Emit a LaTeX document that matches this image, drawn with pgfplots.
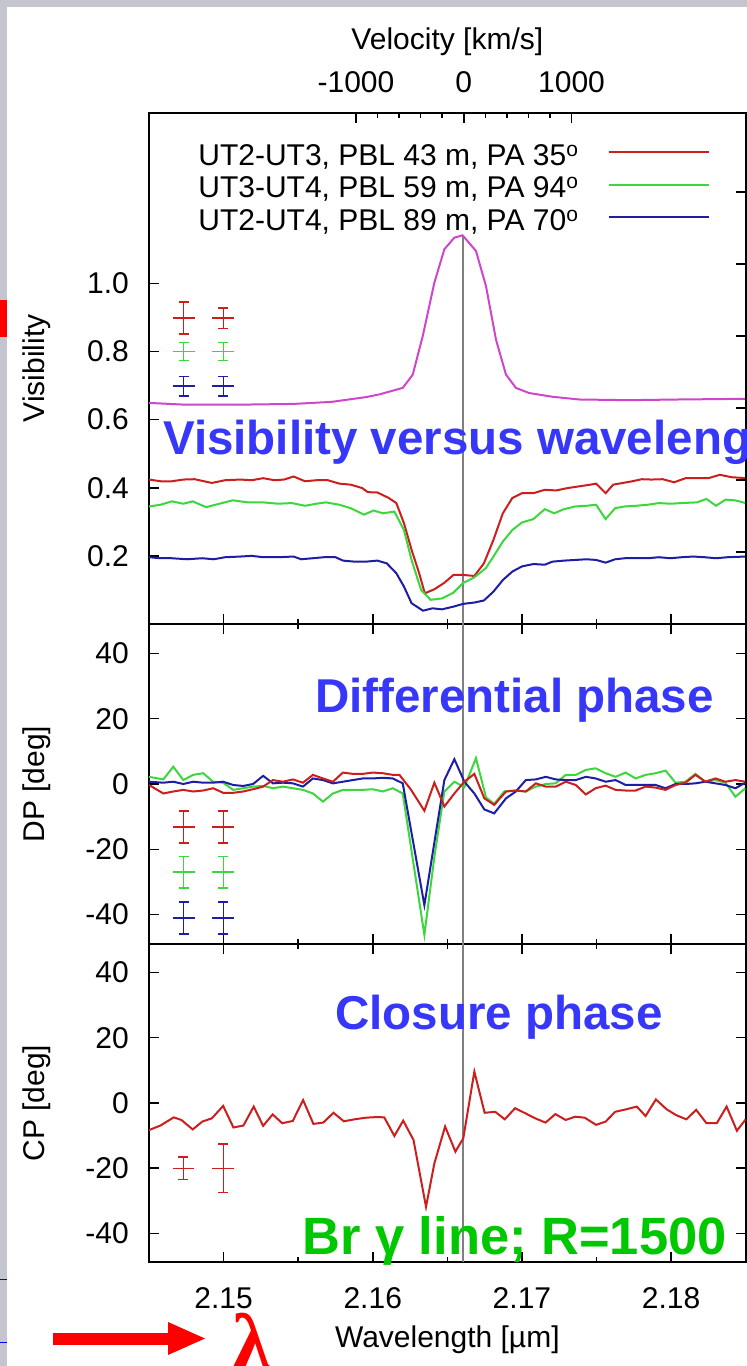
\documentclass[border=0pt]{standalone}
\usepackage{fontspec}
\setmainfont{Liberation Sans}
\newfontfamily\lamfont{Liberation Serif}
\usepackage{pgfplots}
\usepackage{pgfplotstable}
\pgfplotsset{compat=1.18}

\definecolor{gpred}{RGB}{205,30,30}
\definecolor{gpgreen}{RGB}{60,215,60}
\definecolor{gpblue}{RGB}{30,30,165}
\definecolor{gpmag}{RGB}{205,70,205}
\definecolor{annblue}{RGB}{55,55,250}
\definecolor{anngreen}{RGB}{0,200,0}
\definecolor{bordergray}{RGB}{196,197,206}

% visibility
\pgfplotstableread{
x y
2.14500 0.649
2.14730 0.644
2.15138 0.644
2.15469 0.646
2.15724 0.652
2.15954 0.666
2.16045 0.674
2.16201 0.693
2.16268 0.732
2.16335 0.845
2.16413 1.002
2.16480 1.100
2.16547 1.134
2.16602 1.141
2.16692 1.095
2.16759 0.992
2.16826 0.835
2.16893 0.732
2.16960 0.693
2.17048 0.678
2.17204 0.667
2.17383 0.659
2.17717 0.657
2.18052 0.659
2.18500 0.661
}\spec
\pgfplotstableread{
x y
2.14500 0.424
2.14577 0.419
2.14653 0.419
2.14730 0.424
2.14806 0.425
2.14921 0.414
2.15010 0.422
2.15112 0.424
2.15189 0.422
2.15265 0.428
2.15342 0.422
2.15406 0.424
2.15469 0.433
2.15546 0.419
2.15622 0.422
2.15699 0.422
2.15776 0.412
2.15852 0.409
2.15929 0.399
2.15967 0.387
2.16031 0.386
2.16107 0.370
2.16158 0.355
2.16209 0.296
2.16260 0.218
2.16311 0.149
2.16349 0.090
2.16413 0.102
2.16477 0.120
2.16541 0.144
2.16605 0.144
2.16681 0.141
2.16745 0.178
2.16809 0.247
2.16872 0.325
2.16936 0.370
2.17000 0.384
2.17077 0.384
2.17153 0.394
2.17230 0.392
2.17306 0.399
2.17383 0.404
2.17459 0.409
2.17497 0.412
2.17561 0.384
2.17612 0.409
2.17676 0.414
2.17740 0.419
2.17804 0.425
2.17867 0.424
2.17944 0.425
2.18020 0.416
2.18097 0.428
2.18173 0.428
2.18250 0.428
2.18327 0.438
2.18403 0.431
2.18500 0.428
}\visred
\pgfplotstableread{
x y
2.14500 0.345
2.14577 0.350
2.14653 0.360
2.14730 0.353
2.14793 0.360
2.14883 0.343
2.14972 0.353
2.15061 0.363
2.15163 0.357
2.15265 0.357
2.15367 0.353
2.15457 0.355
2.15546 0.347
2.15622 0.353
2.15686 0.357
2.15776 0.350
2.15852 0.340
2.15941 0.321
2.16005 0.333
2.16069 0.325
2.16145 0.330
2.16209 0.276
2.16260 0.188
2.16324 0.100
2.16388 0.071
2.16464 0.075
2.16541 0.092
2.16605 0.120
2.16681 0.137
2.16758 0.164
2.16809 0.198
2.16872 0.242
2.16936 0.276
2.17000 0.298
2.17077 0.308
2.17153 0.337
2.17217 0.325
2.17281 0.337
2.17357 0.345
2.17434 0.347
2.17497 0.350
2.17561 0.308
2.17625 0.340
2.17689 0.345
2.17765 0.347
2.17842 0.350
2.17918 0.355
2.17995 0.353
2.18071 0.355
2.18173 0.357
2.18237 0.367
2.18301 0.347
2.18365 0.365
2.18429 0.363
2.18500 0.355
}\visgreen
\pgfplotstableread{
x y
2.14500 0.196
2.14577 0.193
2.14653 0.193
2.14755 0.190
2.14857 0.193
2.14934 0.190
2.15010 0.196
2.15112 0.198
2.15189 0.200
2.15265 0.196
2.15367 0.196
2.15469 0.198
2.15520 0.190
2.15597 0.193
2.15673 0.196
2.15750 0.196
2.15801 0.186
2.15878 0.183
2.15954 0.183
2.16031 0.186
2.16094 0.178
2.16158 0.149
2.16209 0.110
2.16260 0.061
2.16337 0.039
2.16400 0.046
2.16464 0.043
2.16541 0.051
2.16605 0.059
2.16681 0.063
2.16745 0.069
2.16809 0.095
2.16872 0.129
2.16936 0.154
2.17000 0.169
2.17077 0.176
2.17153 0.174
2.17204 0.183
2.17281 0.186
2.17357 0.188
2.17434 0.190
2.17497 0.188
2.17561 0.180
2.17625 0.190
2.17689 0.193
2.17765 0.193
2.17842 0.193
2.17918 0.196
2.17995 0.193
2.18071 0.196
2.18148 0.198
2.18224 0.196
2.18301 0.193
2.18378 0.196
2.18500 0.198
}\visblue

% differential phase
\pgfplotstableread{
x y
2.14500 -0.3
2.14596 -2.9
2.14663 -2.3
2.14730 -1.8
2.14796 -2.3
2.14863 -2.0
2.14930 -1.3
2.14997 -2.7
2.15064 -2.7
2.15131 -2.3
2.15198 -1.6
2.15265 -0.8
2.15331 1.2
2.15398 0.7
2.15465 1.4
2.15532 0.4
2.15599 2.8
2.15666 1.7
2.15733 0.7
2.15800 3.5
2.15866 3.1
2.15933 3.1
2.16000 3.5
2.16067 3.3
2.16134 2.8
2.16179 2.8
2.16257 -1.8
2.16346 -8.2
2.16413 0.4
2.16480 -6.9
2.16547 -2.9
2.16614 0.7
2.16681 3.1
2.16748 -4.4
2.16814 -6.4
2.16893 -2.3
2.16959 -2.0
2.17026 -2.3
2.17093 0.2
2.17160 -0.8
2.17227 -0.8
2.17294 0.7
2.17361 -0.3
2.17428 -3.2
2.17494 -1.3
2.17561 -0.5
2.17628 -1.8
2.17695 -2.0
2.17762 -2.0
2.17829 -0.8
2.17896 -1.1
2.17963 -1.8
2.18030 -0.3
2.18096 0.4
2.18163 2.8
2.18230 0.7
2.18297 1.7
2.18364 0.7
2.18431 1.2
2.18498 0.7
}\dpred
\pgfplotstableread{
x y
2.14500 2.2
2.14596 1.4
2.14663 5.3
2.14730 1.2
2.14796 2.8
2.14863 3.3
2.14930 0.7
2.14997 0.4
2.15064 -1.8
2.15131 -1.3
2.15198 -0.8
2.15265 -0.6
2.15331 -1.3
2.15398 -0.8
2.15465 -1.3
2.15532 -1.8
2.15599 -2.9
2.15666 -5.4
2.15733 -2.9
2.15800 -1.8
2.15866 -1.8
2.15933 -1.8
2.16000 -1.6
2.16067 -2.3
2.16134 -1.3
2.16201 -2.9
2.16346 -46.2
2.16413 -22.3
2.16480 -2.3
2.16547 0.7
2.16614 -1.0
2.16692 7.9
2.16759 -4.1
2.16814 -6.1
2.16881 -2.3
2.16959 -2.0
2.17026 -2.3
2.17093 -0.8
2.17160 0.0
2.17227 0.2
2.17294 2.8
2.17361 2.8
2.17428 4.3
2.17494 4.8
2.17561 3.3
2.17628 2.2
2.17695 3.5
2.17762 1.7
2.17829 2.8
2.17896 3.3
2.17963 4.1
2.18030 0.4
2.18096 0.7
2.18163 3.1
2.18230 0.7
2.18297 1.2
2.18364 0.4
2.18431 -3.9
2.18498 -1.3
}\dpgreen
\pgfplotstableread{
x y
2.14500 0.7
2.14596 0.4
2.14663 0.7
2.14730 0.0
2.14796 0.7
2.14863 0.4
2.14930 0.4
2.14997 0.7
2.15064 -0.3
2.15131 -0.6
2.15198 0.0
2.15265 2.5
2.15331 0.2
2.15398 0.4
2.15465 0.2
2.15532 -0.8
2.15599 1.7
2.15666 1.2
2.15733 0.2
2.15800 0.7
2.15866 1.2
2.15933 1.7
2.16000 1.7
2.16067 1.9
2.16134 1.7
2.16201 0.2
2.16346 -37.1
2.16413 -17.9
2.16480 1.2
2.16547 7.6
2.16614 0.7
2.16681 -2.9
2.16748 -7.8
2.16814 -9.0
2.16893 -4.4
2.16959 -2.3
2.17026 1.2
2.17093 1.4
2.17160 2.2
2.17227 1.4
2.17294 1.2
2.17361 1.2
2.17428 2.2
2.17494 1.7
2.17561 0.7
2.17628 1.2
2.17695 -0.3
2.17762 -0.3
2.17829 -0.3
2.17896 -0.3
2.17963 -1.3
2.18030 0.0
2.18096 0.0
2.18163 0.2
2.18230 0.7
2.18297 0.2
2.18364 -0.3
2.18431 -1.3
2.18498 0.4
}\dpblue

% closure phase
\pgfplotstableread{
x y
2.14500 -8.3
2.14577 -6.9
2.14666 -4.4
2.14717 -5.2
2.14793 -8.1
2.14857 -5.7
2.14921 -4.7
2.14997 -0.9
2.15066 -7.5
2.15133 -6.9
2.15202 -1.1
2.15265 -7.0
2.15329 -3.5
2.15393 -6.2
2.15464 -5.5
2.15533 0.9
2.15602 -6.4
2.15668 -6.0
2.15737 -3.0
2.15806 -5.6
2.15878 -5.0
2.15954 -4.5
2.16031 -4.3
2.16077 -4.4
2.16145 -10.1
2.16204 -5.4
2.16273 -11.3
2.16357 -31.8
2.16413 -18.5
2.16485 -7.2
2.16554 -14.9
2.16607 -10.8
2.16681 9.6
2.16750 -3.0
2.16821 -2.7
2.16885 -5.0
2.16954 -1.6
2.17025 -3.2
2.17089 -4.7
2.17158 -6.0
2.17224 -3.4
2.17293 -5.2
2.17357 -4.2
2.17421 -4.5
2.17497 -6.7
2.17561 -5.7
2.17625 -2.7
2.17702 -1.9
2.17770 -1.1
2.17829 -4.0
2.17898 1.1
2.17969 -1.9
2.18033 -3.7
2.18102 -5.0
2.18168 -2.1
2.18237 -6.2
2.18306 -6.2
2.18372 -1.1
2.18441 -8.5
2.18500 -5.0
}\cpred

\pgfplotsset{
  panel/.style={
    scale only axis, width=596.7pt,
    xmin=2.145, xmax=2.185,
    axis line style={line width=1.6pt},
    tick style={black, line width=1.6pt},
    major tick length=10pt, minor tick length=5pt,
    tick align=inside,
    xtick={2.15,2.16,2.17,2.18},
    minor xtick={2.155,2.165,2.175},
    font=\fontsize{30}{36}\selectfont,
    yticklabel style={anchor=east, inner sep=0pt, xshift=-20pt},
    ylabel style={at={(axis description cs:-0.188,0.5)}, anchor=center},
  },
  % error crosses: bar, two caps and the spectral width, as separate segments
  err/.style={#1, line width=1.5pt, forget plot, unbounded coords=jump},
}

\begin{document}
\begin{tikzpicture}
\fill[bordergray] (0,0) rectangle (747pt,1366pt);
\fill[white] (7pt,0) rectangle (747pt,1359pt);
\fill[red] (0,1029pt) rectangle (7pt,1066pt);
\draw[blue, line width=1pt] (0,86pt) -- (7pt,86pt);
\draw[blue, line width=1pt] (0,23pt) -- (7pt,23pt);

% panel 1: visibility
\begin{axis}[panel, at={(149pt,742pt)}, anchor=south west, height=511pt,
  ymin=0, ymax=1.5, ytick={0.2,0.4,0.6,0.8,1.0},
  yticklabels={0.2,0.4,0.6,0.8,1.0},
  xticklabels={}, xtick pos=left, ytick pos=left,
  ylabel={Visibility},
  legend style={draw=none, fill=none, at={(axis description cs:0.940,0.944)},
    anchor=north east, inner sep=0pt, row sep=0pt, column sep=28pt,
    nodes={inner sep=1.25pt, text height=22pt, text depth=8pt}},
  legend plot pos=right, legend cell align=right,
  legend image code/.code={\draw[#1, line width=2pt] (0pt,6pt) -- (100pt,6pt);},
]
\addplot[gray, line width=2pt, forget plot] coordinates {(2.16607,0) (2.16607,1.14)};
\addplot[gpmag, line width=2pt, forget plot] table {\spec};
\addplot[gpred, line width=2pt] table {\visred};
\addlegendentry{UT2-UT3, PBL 43 m, PA 35\textsuperscript{o}}
\addplot[gpgreen, line width=2pt] table {\visgreen};
\addlegendentry{UT3-UT4, PBL 59 m, PA 94\textsuperscript{o}}
\addplot[gpblue, line width=2pt] table {\visblue};
\addlegendentry{UT2-UT4, PBL 89 m, PA 70\textsuperscript{o}}
\addplot[err=gpred] coordinates {
  (2.14732,0.851) (2.14732,0.945) (nan,nan)
  (2.14699,0.851) (2.14765,0.851) (nan,nan)
  (2.14699,0.945) (2.14765,0.945) (nan,nan)
  (2.14658,0.898) (2.14806,0.898) (nan,nan)
  (2.14998,0.868) (2.14998,0.928) (nan,nan)
  (2.14965,0.868) (2.15031,0.868) (nan,nan)
  (2.14965,0.928) (2.15031,0.928) (nan,nan)
  (2.14924,0.898) (2.15072,0.898)};
\addplot[err=gpgreen] coordinates {
  (2.14732,0.773) (2.14732,0.827) (nan,nan)
  (2.14699,0.773) (2.14765,0.773) (nan,nan)
  (2.14699,0.827) (2.14765,0.827) (nan,nan)
  (2.14658,0.800) (2.14806,0.800) (nan,nan)
  (2.14998,0.773) (2.14998,0.827) (nan,nan)
  (2.14965,0.773) (2.15031,0.773) (nan,nan)
  (2.14965,0.827) (2.15031,0.827) (nan,nan)
  (2.14924,0.800) (2.15072,0.800)};
\addplot[err=gpblue] coordinates {
  (2.14732,0.669) (2.14732,0.727) (nan,nan)
  (2.14699,0.669) (2.14765,0.669) (nan,nan)
  (2.14699,0.727) (2.14765,0.727) (nan,nan)
  (2.14658,0.698) (2.14806,0.698) (nan,nan)
  (2.14998,0.669) (2.14998,0.727) (nan,nan)
  (2.14965,0.669) (2.15031,0.669) (nan,nan)
  (2.14965,0.727) (2.15031,0.727) (nan,nan)
  (2.14924,0.698) (2.15072,0.698)};
\end{axis}

% right-hand ticks of panel 1
\begin{axis}[scale only axis, width=596.7pt, height=511pt,
  at={(149pt,742pt)}, anchor=south west,
  xmin=2.145, xmax=2.185, ymin=0, ymax=1.42,
  axis y line*=right, hide x axis,
  axis line style={line width=1.6pt}, tick style={black, line width=1.6pt},
  tick align=inside, major tick length=10pt,
  ytick={0.2,0.4,0.6,0.8,1.0,1.2}, yticklabels={}]
\end{axis}

% velocity axis on top
\begin{axis}[scale only axis, width=596.7pt, height=511pt,
  at={(149pt,742pt)}, anchor=south west,
  xmin=-2920.3, xmax=2615.8, ymin=0, ymax=1,
  axis x line*=top, hide y axis,
  axis line style={line width=1.6pt}, tick style={black, line width=1.6pt},
  tick align=inside, major tick length=10pt, minor tick length=5pt,
  font=\fontsize{30}{36}\selectfont,
  xtick={-1000,0,1000}, xticklabels={-1000,0,1000},
  minor xtick={-800,-600,-400,-200,200,400,600,800},
  xticklabel style={anchor=south, inner sep=0pt, yshift=20pt},
  xlabel={Velocity [km/s]},
  xlabel style={at={(axis description cs:0.5,1.1233)}, anchor=base}]
\end{axis}

% panel 2: differential phase
\begin{axis}[panel, at={(149pt,422pt)}, anchor=south west, height=320pt,
  ymin=-49, ymax=49, ytick={-40,-20,0,20,40},
  yticklabels={-40,-20,0,20,40}, xticklabels={},
  ylabel={DP [deg]}]
\addplot[gray, line width=2pt] coordinates {(2.16607,-60) (2.16607,60)};
\addplot[gpgreen, line width=2pt] table {\dpgreen};
\addplot[gpblue, line width=2pt] table {\dpblue};
\addplot[gpred, line width=2pt] table {\dpred};
\addplot[err=gpred] coordinates {
  (2.14732,-18.1) (2.14732,-8.3) (nan,nan)
  (2.14699,-18.1) (2.14765,-18.1) (nan,nan)
  (2.14699,-8.3) (2.14765,-8.3) (nan,nan)
  (2.14658,-13.2) (2.14806,-13.2) (nan,nan)
  (2.14998,-18.1) (2.14998,-8.3) (nan,nan)
  (2.14965,-18.1) (2.15031,-18.1) (nan,nan)
  (2.14965,-8.3) (2.15031,-8.3) (nan,nan)
  (2.14924,-13.2) (2.15072,-13.2)};
\addplot[err=gpgreen] coordinates {
  (2.14732,-31.8) (2.14732,-22.2) (nan,nan)
  (2.14699,-31.8) (2.14765,-31.8) (nan,nan)
  (2.14699,-22.2) (2.14765,-22.2) (nan,nan)
  (2.14658,-27.0) (2.14806,-27.0) (nan,nan)
  (2.14998,-31.8) (2.14998,-22.2) (nan,nan)
  (2.14965,-31.8) (2.15031,-31.8) (nan,nan)
  (2.14965,-22.2) (2.15031,-22.2) (nan,nan)
  (2.14924,-27.0) (2.15072,-27.0)};
\addplot[err=gpblue] coordinates {
  (2.14732,-45.9) (2.14732,-36.1) (nan,nan)
  (2.14699,-45.9) (2.14765,-45.9) (nan,nan)
  (2.14699,-36.1) (2.14765,-36.1) (nan,nan)
  (2.14658,-41.0) (2.14806,-41.0) (nan,nan)
  (2.14998,-45.9) (2.14998,-36.1) (nan,nan)
  (2.14965,-45.9) (2.15031,-45.9) (nan,nan)
  (2.14965,-36.1) (2.15031,-36.1) (nan,nan)
  (2.14924,-41.0) (2.15072,-41.0)};
\end{axis}

% panel 3: closure phase
\begin{axis}[panel, at={(149pt,104pt)}, anchor=south west, height=318pt,
  ymin=-48.7, ymax=48.7, ytick={-40,-20,0,20,40},
  yticklabels={-40,-20,0,20,40},
  xticklabels={2.15,2.16,2.17,2.18},
  xticklabel style={anchor=north, inner sep=0pt, yshift=-25pt},
  xlabel={Wavelength [µm]},
  xlabel style={at={(axis description cs:0.5,-0.2704)}, anchor=base},
  ylabel={CP [deg]}]
\addplot[gray, line width=2pt] coordinates {(2.16607,-60) (2.16607,60)};
\addplot[gpred, line width=2pt] table {\cpred};
\addplot[err=gpred] coordinates {
  (2.14730,-23.4) (2.14730,-16.6) (nan,nan)
  (2.14697,-23.4) (2.14763,-23.4) (nan,nan)
  (2.14697,-16.6) (2.14763,-16.6) (nan,nan)
  (2.14660,-20.0) (2.14800,-20.0) (nan,nan)
  (2.14998,-27.4) (2.14998,-12.6) (nan,nan)
  (2.14965,-27.4) (2.15031,-27.4) (nan,nan)
  (2.14965,-12.6) (2.15031,-12.6) (nan,nan)
  (2.14924,-20.0) (2.15072,-20.0)};
\end{axis}

% slide annotations
\begin{scope}
\clip (0,0) rectangle (747pt,1366pt);
\node[anchor=base west, inner sep=0pt, text=annblue,
  font=\fontsize{47.5}{50}\selectfont\bfseries] at (163pt,911pt) {Visibility versus wavelength};
\node[anchor=base west, inner sep=0pt, text=annblue,
  font=\fontsize{47.5}{50}\selectfont\bfseries] at (315pt,653pt) {Differential phase};
\node[anchor=base west, inner sep=0pt, text=annblue,
  font=\fontsize{47.5}{50}\selectfont\bfseries] at (335pt,336pt) {Closure phase};
\node[anchor=base west, inner sep=0pt, text=anngreen,
  font=\fontsize{52.5}{55}\selectfont\bfseries] at (302pt,111pt) {Br γ line; R=1500};
\fill[red] (53pt,21pt) rectangle (170pt,33pt);
\fill[red] (168pt,44pt) -- (205pt,27.5pt) -- (168pt,11pt) -- cycle;
\node[anchor=north west, inner sep=0pt, text=red,
  font=\lamfont\fontsize{80}{80}\selectfont\bfseries] at (232pt,53pt) {λ};
\end{scope}
\pgfresetboundingbox
\useasboundingbox (0,0) rectangle (747pt,1366pt);
\end{tikzpicture}
\end{document}
